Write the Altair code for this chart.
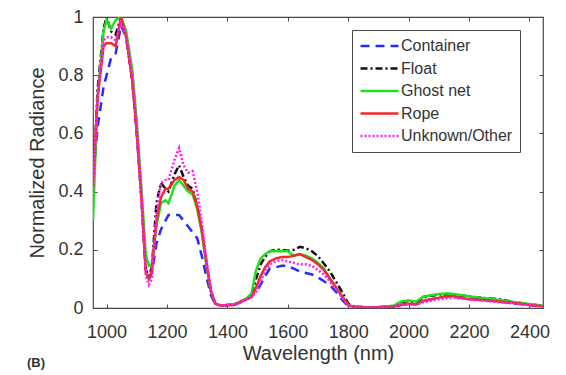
import altair as alt
import pandas as pd

wavelength = [955, 970, 990, 1000, 1015, 1030, 1048, 1065, 1085, 1100,
              1115, 1130, 1140, 1150, 1165, 1180, 1195, 1205, 1225, 1240,
              1255, 1270, 1285, 1300, 1315, 1330, 1345, 1360, 1380, 1400,
              1420, 1440, 1460, 1480, 1495, 1510, 1525, 1540, 1560, 1580,
              1600, 1620, 1640, 1660, 1680, 1700, 1720, 1740, 1760, 1780,
              1800, 1820, 1850, 1900, 1950, 1975, 2000, 2025, 2050, 2075,
              2100, 2125, 2150, 2175, 2200, 2250, 2300, 2350, 2400, 2445]

container = [.42, .62, .76, .80, .86, .875, .97, .93, .78, .60,
             .38, .13, .10, .12, .22, .27, .30, .32, .32, .32,
             .30, .28, .26, .24, .18, .11, .045, .012, .008, .01,
             .01, .018, .028, .04, .055, .08, .11, .135, .14, .145,
             .145, .135, .125, .12, .115, .105, .092, .078, .055, .028,
             .006, .004, .003, .003, .005, .01, .014, .013, .024, .03,
             .035, .04, .038, .035, .032, .028, .022, .016, .01, .005]

float_ = [.40, .75, .96, 1.0, .95, .94, 1.0, .93, .79, .61,
          .39, .13, .11, .14, .36, .43, .41, .40, .46, .49,
          .45, .42, .41, .35, .27, .16, .06, .015, .008, .01,
          .012, .02, .03, .045, .10, .15, .175, .195, .20, .20,
          .197, .20, .21, .205, .195, .178, .152, .125, .09, .055,
          .015, .004, .003, .003, .006, .02, .024, .02, .037, .042,
          .046, .048, .047, .043, .04, .034, .03, .02, .013, .008]

ghost_net = [.30, .72, .95, .99, .96, .99, 1.0, .95, .82, .64,
             .42, .18, .145, .15, .28, .36, .37, .36, .42, .44,
             .42, .40, .39, .34, .26, .15, .06, .015, .008, .01,
             .012, .02, .03, .05, .13, .17, .185, .195, .195, .195,
             .195, .18, .185, .18, .17, .155, .135, .10, .07, .04,
             .01, .004, .003, .003, .008, .022, .026, .022, .04, .044,
             .048, .05, .048, .044, .04, .034, .028, .02, .014, .008]

rope = [.42, .72, .90, .91, .91, .90, 1.0, .93, .78, .60,
        .38, .12, .10, .13, .30, .38, .41, .41, .44, .45,
        .44, .41, .40, .35, .27, .16, .06, .015, .008, .01,
        .01, .02, .028, .038, .07, .11, .14, .16, .17, .175,
        .175, .18, .185, .175, .165, .15, .13, .10, .07, .04,
        .01, .004, .003, .003, .005, .012, .015, .012, .025, .03,
        .035, .04, .04, .035, .03, .027, .022, .018, .01, .006]

unknown = [.40, .72, .92, .93, .93, .92, .98, .93, .80, .62,
           .40, .11, .08, .10, .33, .43, .44, .44, .51, .55,
           .49, .465, .47, .40, .30, .17, .06, .015, .008, .01,
           .01, .018, .028, .04, .055, .09, .13, .15, .16, .165,
           .16, .155, .15, .15, .145, .13, .115, .09, .065, .035,
           .008, .004, .003, .003, .005, .01, .012, .012, .02, .025,
           .03, .033, .035, .032, .03, .025, .02, .015, .01, .005]

names = ["Container", "Float", "Ghost net", "Rope", "Unknown/Other"]
series_values = [container, float_, ghost_net, rope, unknown]
colors = ["#2a2aff", "#111111", "#1ee01e", "#f02a2a", "#ff1eff"]
dashes = [[9, 6], [7, 3, 2, 3], [1, 0], [1, 0], [2, 2]]

x_ticks = [1000, 1200, 1400, 1600, 1800, 2000, 2200, 2400]
y_ticks = [0, 0.2, 0.4, 0.6, 0.8, 1]

rows = []
for name, vals in zip(names, series_values):
    for w, v in zip(wavelength, vals):
        rows.append({"wavelength": w, "radiance": v, "type": name})
df = pd.DataFrame(rows)

FONT = "Liberation Sans"
TXT = "#333333"
AX = "#4a4a4a"

xscale = alt.Scale(domain=[955, 2445], nice=False, zero=False)
yscale = alt.Scale(domain=[0, 1], nice=False, zero=False)

leg = alt.Legend(
    title=None, orient="none", legendX=259, legendY=13,
    symbolType="stroke", symbolSize=1444, symbolStrokeWidth=2.5,
    labelFontSize=16, labelFont=FONT, labelColor=TXT, labelOffset=1,
    strokeColor=AX, fillColor="white", padding=7, rowPadding=4.5, clipHeight=18,
)

lines = alt.Chart(df).mark_line(strokeWidth=2.5, clip=True).encode(
    x=alt.X("wavelength:Q", scale=xscale,
            axis=alt.Axis(title="Wavelength (nm)", values=x_ticks, format="d", orient="bottom",
                          offset=-4, domain=False, tickSize=4, tickColor=AX,
                          labelPadding=15, labelFontSize=18, labelFont=FONT, labelColor=TXT,
                          titleFontSize=20, titleFont=FONT, titleColor=TXT,
                          titleFontWeight="normal", titlePadding=2, grid=False)),
    y=alt.Y("radiance:Q", scale=yscale,
            axis=alt.Axis(title="Normalized Radiance", values=y_ticks, format="~g",
                          orient="left", offset=-4, domain=False, tickSize=4, tickColor=AX,
                          labelPadding=10, labelFontSize=18, labelFont=FONT, labelColor=TXT,
                          titleFontSize=20, titleFont=FONT, titleColor=TXT,
                          titleFontWeight="normal", titlePadding=10, grid=False)),
    color=alt.Color("type:N", scale=alt.Scale(domain=names, range=colors), legend=leg),
    strokeDash=alt.StrokeDash("type:N", scale=alt.Scale(domain=names, range=dashes), legend=leg),
)

frame = alt.Chart(df).mark_point(opacity=0).encode(
    x=alt.X("wavelength:Q", scale=xscale,
            axis=alt.Axis(orient="top", labels=False, title=None, values=x_ticks,
                          offset=-4, domain=False, tickSize=4, tickColor=AX, grid=False)),
    y=alt.Y("radiance:Q", scale=yscale,
            axis=alt.Axis(orient="right", labels=False, title=None, values=y_ticks,
                          offset=-4, domain=False, tickSize=4, tickColor=AX, grid=False)),
)

label = alt.Chart(pd.DataFrame({"t": ["(B)"]})).mark_text(
    font=FONT, fontSize=13, fontWeight="bold", color=TXT, align="left", baseline="middle"
).encode(text="t:N", x=alt.value(-66), y=alt.value(346))

chart = alt.layer(lines, frame, label).resolve_axis(x="independent", y="independent").properties(
    width=450, height=291,
    autosize=alt.AutoSizeParams(type="none"),
    padding={"left": 85, "top": 9, "right": 15, "bottom": 70},
).configure_view(stroke=AX, strokeWidth=1.2)

chart.save("out.html", embed_options={"renderer": "svg", "actions": False})
